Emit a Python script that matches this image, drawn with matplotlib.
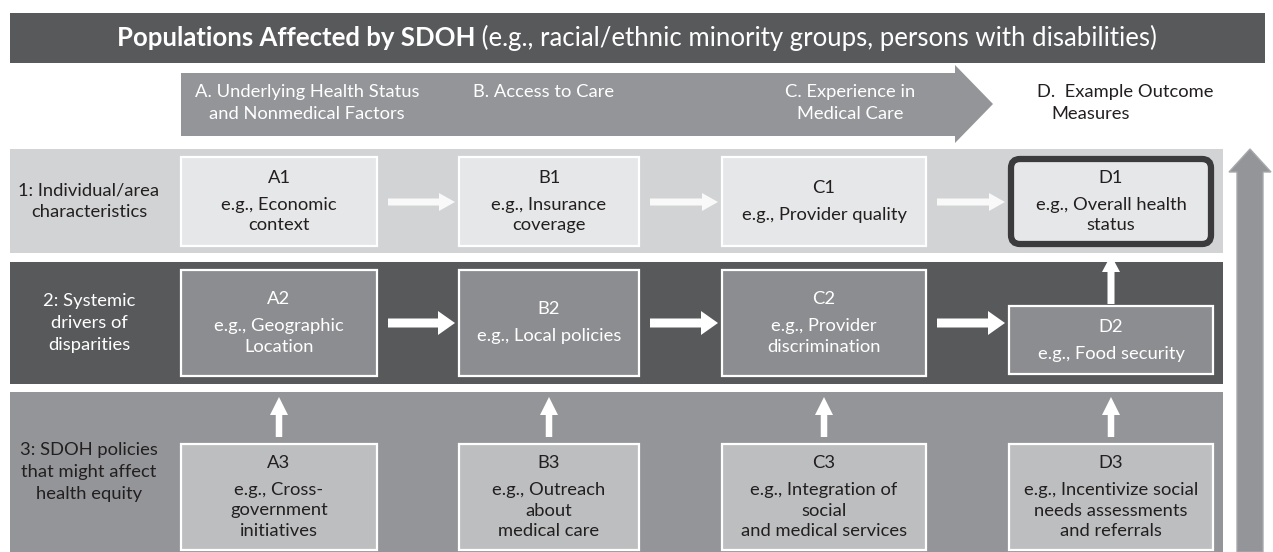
import matplotlib
matplotlib.use("Agg")
import matplotlib.pyplot as plt
from matplotlib.patches import Rectangle, Polygon, FancyArrow, FancyBboxPatch

# ---------------- data ----------------
title_bold = "Populations Affected by SDOH"
title_rest = " (e.g., racial/ethnic minority groups, persons with disabilities)"

col_ids = ["A", "B", "C", "D"]
col_headers = [
    ["A. Underlying Health Status", "and Nonmedical Factors"],
    ["B. Access to Care"],
    ["C. Experience in", "Medical Care"],
    ["D.  Example Outcome", "Measures"],
]

row_labels = [
    ["1: Individual/area", "characteristics"],
    ["2: Systemic", "drivers of", "disparities"],
    ["3: SDOH policies", "that might affect", "health equity"],
]

row1_texts = [["e.g., Economic", "context"],
              ["e.g., Insurance", "coverage"],
              ["e.g., Provider quality"],
              ["e.g., Overall health", "status"]]
row2_texts = [["e.g., Geographic", "Location"],
              ["e.g., Local policies"],
              ["e.g., Provider", "discrimination"],
              ["e.g., Food security"]]
row3_texts = [["e.g., Cross-", "government", "initiatives"],
              ["e.g., Outreach", "about", "medical care"],
              ["e.g., Integration of", "social", "and medical services"],
              ["e.g., Incentivize social", "needs assessments", "and referrals"]]
box_texts = [row1_texts, row2_texts, row3_texts]

# ---------------- style / layout ----------------
FONT = "Lato"
DARK = "#58595b"
MID = "#939598"
LIGHT = "#d1d3d4"
TXT = "#231f20"
W, H = 1273, 552

fig = plt.figure(figsize=(W / 100, H / 100), dpi=100)
ax = fig.add_axes([0, 0, 1, 1])
ax.set_xlim(0, W)
ax.set_ylim(H, 0)
ax.axis("off")
fig.patch.set_facecolor("white")

FS = 13.2

# top banner
ax.add_patch(Rectangle((10, 13), 1255, 50, facecolor=DARK, edgecolor="none"))
renderer = fig.canvas.get_renderer()
tb = ax.text(0, 38, title_bold, fontsize=18.5, fontweight="bold", family=FONT,
             color="white", va="center", ha="left")
tr = ax.text(0, 38, title_rest, fontsize=18.5, family=FONT,
             color="white", va="center", ha="left")
wb = tb.get_window_extent(renderer).width
wr = tr.get_window_extent(renderer).width
x0 = 637 - (wb + wr) / 2
tb.set_x(x0)
tr.set_x(x0 + wb)

# header arrow
ax.add_patch(Polygon([(181, 73), (955, 73), (955, 65), (993, 104), (955, 143),
                      (955, 136), (181, 136)], closed=True, facecolor=MID,
                     edgecolor="none"))
hdr_cx = [307, 544, 850]
for i in range(3):
    lines = col_headers[i]
    for j, ln in enumerate(lines):
        ax.text(hdr_cx[i], 92 + 22 * j, ln, fontsize=FS, family=FONT,
                color="white", ha="center", va="center")
ax.text(1037, 92, col_headers[3][0], fontsize=FS, family=FONT, color=TXT,
        ha="left", va="center")
ax.text(1051, 114, col_headers[3][1], fontsize=FS, family=FONT, color=TXT,
        ha="left", va="center")

# row bands
bands = [(149, 253, LIGHT, TXT), (262, 384, DARK, "white"), (392, 552, MID, TXT)]
for (y0, y1, c, tc), lab in zip(bands, row_labels):
    ax.add_patch(Rectangle((10, y0), 1213, y1 - y0, facecolor=c, edgecolor="none"))
    n = len(lab)
    yc = (y0 + y1) / 2
    for j, ln in enumerate(lab):
        ax.text(89, yc + (j - (n - 1) / 2) * 22, ln, fontsize=FS, family=FONT,
                color=tc, ha="center", va="center")

# right vertical arrow
ax.add_patch(Polygon([(1237, 552), (1237, 172), (1229, 172), (1250, 149),
                      (1271, 172), (1263, 172), (1263, 552)], closed=True,
                     facecolor=MID, edgecolor="#a7a9ac", linewidth=1))

# boxes
col_x = [(181, 377), (459, 639), (722, 926), (1009, 1213)]
row_box_y = [[(157, 246)] * 4,
             [(270, 376), (270, 376), (270, 376), (306, 374)],
             [(444, 550)] * 4]
box_fill = ["#e6e7e8", "#8c8d90", "#bcbec0"]
box_tc = [TXT, "white", TXT]

for r in range(3):
    for c in range(4):
        xl, xr = col_x[c]
        yt, yb = row_box_y[r][c]
        if r == 0 and c == 3:
            ax.add_patch(FancyBboxPatch((xl + 2, yt + 2), xr - xl - 4, yb - yt - 4,
                                        boxstyle="round,pad=0,rounding_size=9",
                                        facecolor="#e6e7e8", edgecolor="#3b3b3d",
                                        linewidth=4.5))
        else:
            ax.add_patch(Rectangle((xl, yt), xr - xl, yb - yt, facecolor=box_fill[r],
                                   edgecolor="white", linewidth=1.6))
        body = box_texts[r][c]
        n = len(body)
        block = 27 + 20.5 * (n - 1)
        yc = (yt + yb) / 2
        ytop = yc - block / 2
        cx = (xl + xr) / 2
        ax.text(cx, ytop, f"{col_ids[c]}{r + 1}", fontsize=FS, family=FONT,
                color=box_tc[r], ha="center", va="center")
        for j, ln in enumerate(body):
            ax.text(cx, ytop + 27 + 20.5 * j, ln, fontsize=FS, family=FONT,
                    color=box_tc[r], ha="center", va="center")

# arrows
def harrow(xs, xe, y, w, hw, hl, col):
    ax.add_patch(FancyArrow(xs, y, xe - xs, 0, width=w, head_width=hw,
                            head_length=hl, length_includes_head=True,
                            facecolor=col, edgecolor="none"))

def varrow(x, ys, ye, w, hw, hl, col):
    ax.add_patch(FancyArrow(x, ys, 0, ye - ys, width=w, head_width=hw,
                            head_length=hl, length_includes_head=True,
                            facecolor=col, edgecolor="none"))

for c in range(3):
    harrow(col_x[c][1] + 11, col_x[c + 1][0] - 4, 202, 7, 18, 16, "#f9f9f9")
    harrow(col_x[c][1] + 11, col_x[c + 1][0] - 4, 323, 9, 24, 17, "white")

# D2 -> D1
varrow(1111, 304, 255, 7, 18, 17, "white")
# row 3 up arrows
for c in range(4):
    cx = (col_x[c][0] + col_x[c][1]) / 2
    varrow(cx, 437, 397, 6.5, 18, 18, "white")

fig.savefig("out.png", dpi=100, facecolor="white")
